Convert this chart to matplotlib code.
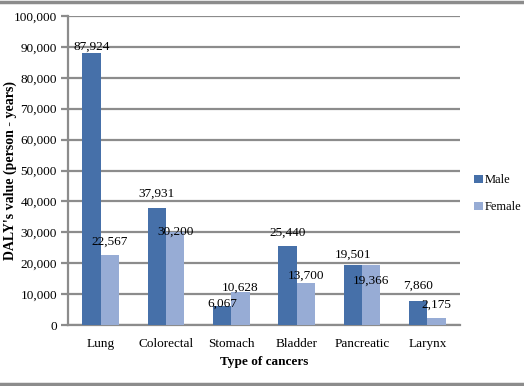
import matplotlib
matplotlib.use("Agg")
import matplotlib.pyplot as plt
import numpy as np
from matplotlib.lines import Line2D

cancers = ["Lung", "Colorectal", "Stomach", "Bladder", "Pancreatic", "Larynx"]
male = [87924, 37931, 6067, 25440, 19501, 7860]
female = [22567, 30200, 10628, 13700, 19366, 2175]
yticks = [0, 10000, 20000, 30000, 40000, 50000, 60000, 70000, 80000, 90000, 100000]

# label lift above the bar top, in points (labels were hand-placed in the original)
male_dy = [5, 10, 1.5, 10, 7, 11]
female_dy = [9.5, 0, 3, 5, -11.5, 10]

plt.rcParams['font.family'] = ['Liberation Serif', 'DejaVu Serif']
plt.rcParams['font.size'] = 9

male_c = "#4670a9"
female_c = "#97acd5"
grid_c = "#8c8c8c"

fig = plt.figure(figsize=(5.24, 3.86), dpi=100)
ax = fig.add_axes([0.130, 0.158, 0.748, 0.8005])

x = np.arange(len(cancers))
w = 0.28
b1 = ax.bar(x - w / 2, male, w, color=male_c, label="Male", zorder=3)
b2 = ax.bar(x + w / 2, female, w, color=female_c, label="Female", zorder=3)

for bars, vals, dys in ((b1, male, male_dy), (b2, female, female_dy)):
    for r, v, dy in zip(bars, vals, dys):
        ax.annotate(f"{v:,}", (r.get_x() + r.get_width() / 2, v),
                    xytext=(0, dy), textcoords="offset points",
                    ha="center", va="center", fontsize=9.5, zorder=4)

ax.set_xlim(-0.5, len(cancers) - 0.5)
ax.set_ylim(0, 100000)
ax.set_yticks(yticks)
ax.set_yticklabels([f"{t:,}" for t in yticks], fontsize=9.5)
ax.set_xticks(x)
ax.set_xticklabels(cancers, fontsize=9.5)
ax.yaxis.grid(True, color=grid_c, linewidth=1.6, zorder=0)
ax.set_axisbelow(True)

for s in ["top", "right"]:
    ax.spines[s].set_visible(False)
for s in ["left", "bottom"]:
    ax.spines[s].set_color(grid_c)
    ax.spines[s].set_linewidth(1.6)
ax.tick_params(axis="y", length=5, width=1.6, color=grid_c, pad=3)
ax.tick_params(axis="x", length=0, pad=9)

ax.set_xlabel("Type of cancers", fontweight="bold", fontsize=9.5, labelpad=5)
ax.set_ylabel("DALY's value (person - years)", fontweight="bold", fontsize=10, va="center")
ax.yaxis.set_label_coords(-0.148, 0.5)

ax.legend(loc="center left", bbox_to_anchor=(0.905, 0.498), bbox_transform=fig.transFigure,
          frameon=False, borderpad=0, borderaxespad=0, handlelength=0.7, handleheight=0.7,
          handletextpad=0.1, labelspacing=1.2, fontsize=9)

fig.add_artist(Line2D([0, 1], [0.996, 0.996], transform=fig.transFigure, color=grid_c, linewidth=2.5))
fig.add_artist(Line2D([0, 1], [0.006, 0.006], transform=fig.transFigure, color=grid_c, linewidth=2.5))

fig.savefig("out.png", dpi=100)
